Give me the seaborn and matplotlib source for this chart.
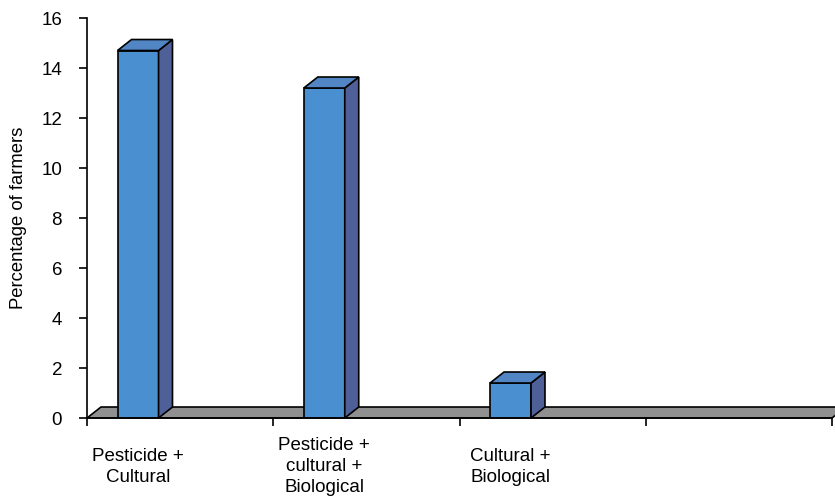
import matplotlib
matplotlib.use("Agg")
import matplotlib.pyplot as plt
import seaborn as sns
import pandas as pd
from matplotlib.patches import Polygon

# values
categories = ["Pesticide +\nCultural", "Pesticide +\ncultural +\nBiological", "Cultural +\nBiological", " "]
percent = [14.7, 13.2, 1.4, 0]
y_ticks = [0, 2, 4, 6, 8, 10, 12, 14, 16]

df = pd.DataFrame({"method": categories, "pct": percent})

sns.set_style("white")
plt.rcParams["font.family"] = ["Liberation Sans", "DejaVu Sans"]
plt.rcParams["text.color"] = "black"
plt.rcParams["axes.labelcolor"] = "black"
plt.rcParams["xtick.color"] = "black"
plt.rcParams["ytick.color"] = "black"

fig = plt.figure(figsize=(8.35, 4.99), dpi=100)
ax = fig.add_axes([0.1042, 0.1623, 0.8922, 0.8016])

front = "#4a8fcf"
top_c = "#5185c4"
side_c = "#4f5f98"
floor_c = "#909090"

sns.barplot(data=df, x="method", y="pct", color=front, saturation=1,
            width=0.22, edgecolor="black", linewidth=1.2, ax=ax, zorder=3)

xl, xr = -0.274, 3.726
ax.set_xlim(xl, xr)
ax.set_ylim(0, 16)

# pseudo 3d depth
dx, dy = 0.075, 0.44

floor = Polygon([(xl, 0), (xl + dx, dy), (xr + dx, dy), (xr, 0)], closed=True,
                facecolor=floor_c, edgecolor="black", linewidth=1.2,
                zorder=2, clip_on=False)
ax.add_patch(floor)

for p in ax.patches[:]:
    if p is floor:
        continue
    x0 = p.get_x()
    x1 = x0 + p.get_width()
    h = p.get_height()
    if h <= 0:
        p.set_visible(False)
        continue
    side = Polygon([(x1, 0), (x1 + dx, dy), (x1 + dx, h + dy), (x1, h)], closed=True,
                   facecolor=side_c, edgecolor="black", linewidth=1.2, zorder=3, clip_on=False)
    top = Polygon([(x0, h), (x0 + dx, h + dy), (x1 + dx, h + dy), (x1, h)], closed=True,
                  facecolor=top_c, edgecolor="black", linewidth=1.2, zorder=3, clip_on=False)
    ax.add_patch(side)
    ax.add_patch(top)

ax.set_yticks(y_ticks)
ax.tick_params(axis="y", which="major", direction="out", length=6, width=1.2,
               labelsize=13.5, pad=12, left=True, color="black")
ax.set_xticks(range(len(categories)))
ax.set_xticklabels(categories, fontsize=13.5, linespacing=1.3)
for t in ax.get_xticklabels():
    t.set_verticalalignment("center")
ax.tick_params(axis="x", which="major", length=0, pad=35)
ax.set_xticks([xl + i for i in range(5)], minor=True)
ax.tick_params(axis="x", which="minor", direction="out", length=6, width=1.2,
               bottom=True, color="black")

ax.set_xlabel("")
ax.set_ylabel("Percentage of farmers", fontsize=13.3, labelpad=10)

for s in ["top", "right"]:
    ax.spines[s].set_visible(False)
for s in ["left", "bottom"]:
    ax.spines[s].set_color("black")
    ax.spines[s].set_linewidth(1.2)
    ax.spines[s].set_zorder(4)

fig.savefig("out.png", dpi=100)
